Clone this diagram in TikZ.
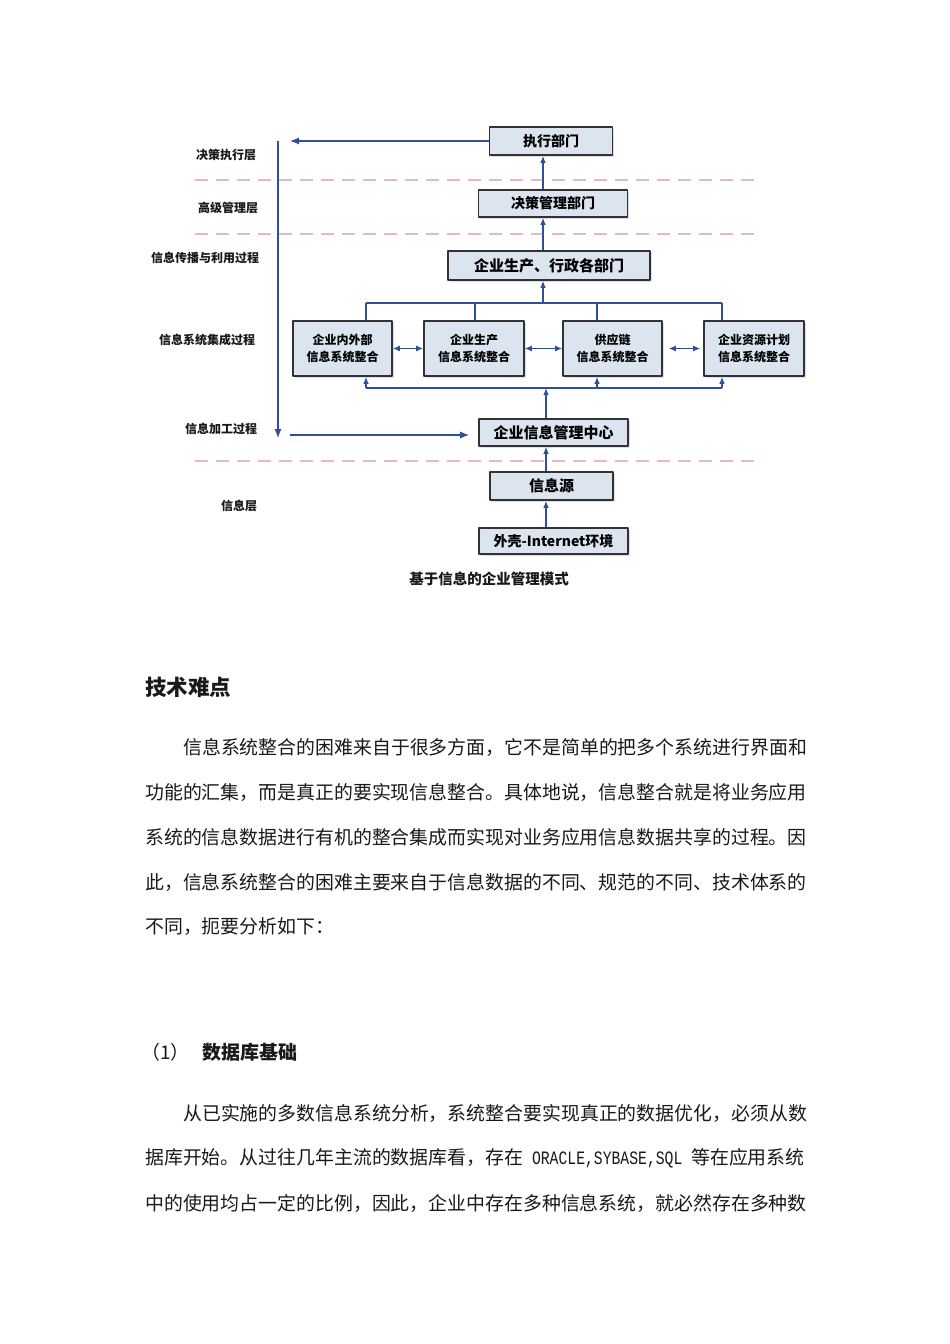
\documentclass[tikz,border=0pt]{standalone}
\usepackage{fontspec}
\setmainfont{Noto Sans CJK SC}
\newfontfamily\narrowmono[FakeStretch=0.78]{Liberation Mono}
\usetikzlibrary{arrows.meta,shadows}

\definecolor{boxfill}{RGB}{220,228,240}
\definecolor{boxline}{RGB}{50,50,55}
\definecolor{linkblue}{RGB}{45,80,150}
\definecolor{layerpink}{RGB}{234,184,194}
\definecolor{bodyink}{RGB}{25,25,25}

\tikzset{
  dept/.style={draw=boxline,fill=boxfill,line width=1.6pt,inner sep=0pt,
    font=\bfseries\fontsize{14}{16}\selectfont,
    drop shadow={shadow xshift=1.5pt,shadow yshift=-1.5pt,opacity=.25}},
  sysbox/.style={dept,align=center,minimum width=99pt,minimum height=55pt,
    font=\bfseries\fontsize{12}{17}\selectfont},
  layer/.style={font=\bfseries\fontsize{12}{13}\selectfont,text=bodyink},
  link/.style={draw=linkblue,line width=1.2pt},
  uplink/.style={link,-{Latex[length=7pt,width=5.5pt]}},
  twolink/.style={link,{Latex[length=7pt,width=6pt]}-{Latex[length=7pt,width=6pt]}},
  divider/.style={draw=layerpink,line width=1.3pt,dash pattern=on 13pt off 8pt},
  bodyline/.style={anchor=west,inner sep=0pt,text=bodyink,font=\fontsize{18.9}{20}\selectfont},
}

\begin{document}
\begin{tikzpicture}[line cap=butt,line join=round,>=latex,x=1pt,y=-1pt]
\path[use as bounding box,fill=white] (0,0) rectangle (950,1344);

% layer dividers
\draw[divider] (195,180) -- (757,180);
\draw[divider] (195,234) -- (757,234);
\draw[divider] (195,461) -- (757,461);

% layer labels
\node[layer] (lyExec) at (226,155) {决策执行层};
\node[layer] (lyHigh) at (228,208) {高级管理层};
\node[layer] (lyUse) at (205,258) {信息传播与利用过程};
\node[layer] (lyInteg) at (207,340) {信息系统集成过程};
\node[layer] (lyProc) at (221,429) {信息加工过程};
\node[layer] (lyInfo) at (239,506) {信息层};

% departments
\node[dept,minimum width=123pt,minimum height=28pt] (exec) at (551,141) {执行部门};
\node[dept,minimum width=149pt,minimum height=27pt] (decide) at (553,203.5) {决策管理部门};
\node[dept,minimum width=202pt,minimum height=29pt,font=\bfseries\fontsize{15}{17}\selectfont] (admin) at (549,265.5) {企业生产、行政各部门};

\node[sysbox] (sysA) at (342.5,348.5) {企业内外部\\信息系统整合};
\node[sysbox,minimum width=100pt] (sysB) at (474,348.5) {企业生产\\信息系统整合};
\node[sysbox] (sysC) at (612.5,348.5) {供应链\\信息系统整合};
\node[sysbox,minimum width=100pt] (sysD) at (754,348.5) {企业资源计划\\信息系统整合};

\node[dept,minimum width=149pt,minimum height=27pt,font=\bfseries\fontsize{15}{17}\selectfont] (center) at (553.5,432.5) {企业信息管理中心};
\node[dept,minimum width=123pt,minimum height=28pt,font=\bfseries\fontsize{15}{17}\selectfont] (source) at (551.5,486) {信息源};
\node[dept,minimum width=149pt,minimum height=26pt] (shell) at (553.5,541) {外壳-Internet环境};

\node[font=\bfseries\fontsize{14.5}{16}\selectfont,text=bodyink] (caption) at (489,579) {基于信息的企业管理模式};

% spine and buses
\coordinate (spine) at (543,0);
\coordinate (spineLow) at (546,0);
\coordinate (topA) at (366,303);
\coordinate (topB) at (475,303);
\coordinate (topC) at (597,303);
\coordinate (topD) at (722,303);
\coordinate (topM) at (543,303);
\coordinate (lowA) at (366,388);
\coordinate (lowC) at (597,388);
\coordinate (lowD) at (722,388);
\coordinate (lowM) at (546,388);

\draw[uplink] (decide.north -| spine) -- (exec.south -| spine);
\draw[uplink] (admin.north -| spine) -- (decide.south -| spine);
\draw[uplink] (topM) -- (admin.south -| topM);
\draw[link] (topA) -- (topD);
\foreach \s in {A,B,C,D}
  \draw[link] (top\s) -- (top\s |- sys\s.north);

\draw[twolink] (sysA) -- (sysB);
\draw[twolink] (sysB) -- (sysC);
\draw[twolink,shorten <=6pt,shorten >=3pt] (sysC) -- (sysD);

\draw[link] (lowA) -- (lowD);
\foreach \s in {A,C,D}
  \draw[uplink] (low\s) -- (low\s |- sys\s.south);
\draw[uplink] (center.north -| lowM) -- (lowM);
\draw[uplink] (source.north -| spineLow) -- (center.south -| spineLow);
\draw[uplink] (shell.north -| spineLow) -- (source.south -| spineLow);

% left rail
\coordinate (railTop) at (278,141);
\coordinate (railEnd) at (278,438);
\coordinate (railIn) at (290,141);
\coordinate (railOut) at (290,435);
\draw[link,-{Latex[length=9pt,width=7pt]}] (railTop) -- (railEnd);
\draw[link,-{Latex[length=9pt,width=7pt]}] (exec.west) -- (railIn);
\draw[link,-{Latex[length=9pt,width=7pt]},shorten >=9pt] (railOut) -- (center.west |- railOut);

% page text
\node[bodyline,font=\bfseries\fontsize{21.5}{23}\selectfont] (techHead) at (145,687) {技术难点};
\node[bodyline] (parA1) at (183,747) {信息系统整合的困难来自于很多方面，它不是简单的把多个系统进行界面和};
\node[bodyline] (parA2) at (145,792) {功能的汇集，而是真正的要实现信息整合。具体地说，信息整合就是将业务应用};
\node[bodyline] (parA3) at (145,837) {系统的信息数据进行有机的整合集成而实现对业务应用信息数据共享的过程。因};
\node[bodyline] (parA4) at (145,882) {此，信息系统整合的困难主要来自于信息数据的不同、规范的不同、技术体系的};
\node[bodyline] (parA5) at (145,927) {不同，扼要分析如下：};

\node[bodyline] (dbNum) at (141,1052) {（1）};
\node[bodyline,font=\bfseries\fontsize{19}{20}\selectfont] (dbHead) at (202,1052) {数据库基础};
\node[bodyline] (parB1) at (183,1113) {从已实施的多数信息系统分析，系统整合要实现真正的数据优化，必须从数};
\node[bodyline] (parB2) at (145,1158) {据库开始。从过往几年主流的数据库看，存在{\narrowmono\fontsize{18.9}{20}\selectfont{} ORACLE,SYBASE,SQL }等在应用系统};
\node[bodyline] (parB3) at (145,1203) {中的使用均占一定的比例，因此，企业中存在多种信息系统，就必然存在多种数};
\end{tikzpicture}
\end{document}
